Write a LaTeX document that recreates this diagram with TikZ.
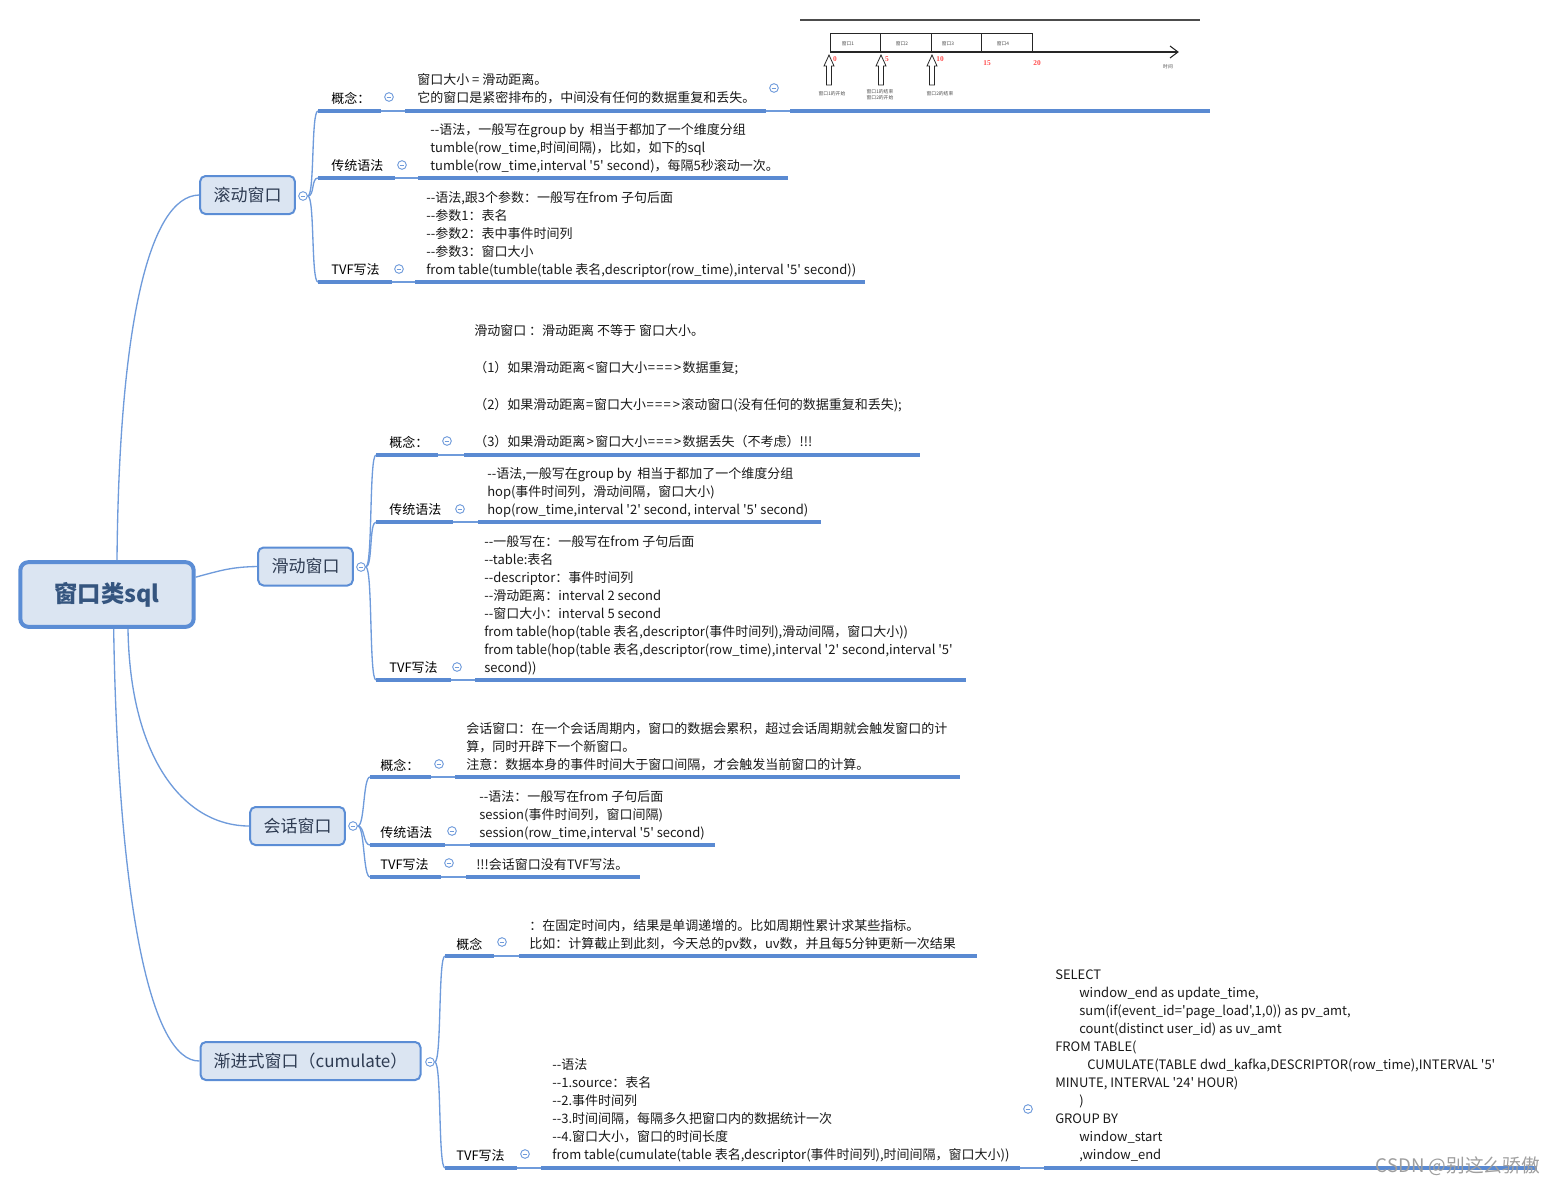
\documentclass[tikz,border=0pt]{standalone}
\usepackage{fontspec}
\setmainfont{Noto Sans CJK SC}[Ligatures=TeXOff]
\newfontfamily\numfont{Liberation Serif}
\usepackage{tikz}
\usetikzlibrary{positioning, calc}

\definecolor{linkc}{HTML}{6F9BDB}
\definecolor{barc}{HTML}{5A8AD2}
\definecolor{boxfill}{HTML}{DBE5F2}
\definecolor{boxline}{HTML}{5B8DD5}
\definecolor{topictext}{HTML}{2E3B52}
\definecolor{roottext}{HTML}{35557F}
\definecolor{redno}{HTML}{FF4B4B}

\newcommand{\lt}{\kern0.1em<\kern0.1em}
\newcommand{\eqs}{\kern0.05em=\kern0.05em}
\newcommand{\gt}{\kern0.1em>\kern0.1em}

\tikzset{
  link/.style={linkc, line width=1pt},
  bar/.style={barc, line width=3pt},
  fold/.style={circle, draw=linkc, fill=white, line width=0.7pt, minimum size=6.5pt, inner sep=0pt,
    path picture={\draw[linkc, line width=0.6pt] ([xshift=-1.8pt]path picture bounding box.center) -- ([xshift=1.8pt]path picture bounding box.center);}},
  rootbox/.style={draw=boxline, fill=boxfill, line width=3pt, rounded corners=6pt, text=roottext,
    font=\fontsize{17.5}{20}\selectfont\bfseries},
  topicbox/.style={draw=boxline, fill=boxfill, line width=1.5pt, rounded corners=4pt, text=topictext,
    font=\fontsize{12.75}{15}\selectfont, minimum height=28.5pt},
  lbl/.style={anchor=west, inner sep=0pt, font=\fontsize{9.75}{13.5}\selectfont},
  txt/.style={anchor=west, inner sep=0pt, align=left, text=black!90, font=\fontsize{9.75}{13.5}\selectfont},
  tiny/.style={inner sep=0pt, align=center, text=black!70, font=\fontsize{3.6}{4.6}\selectfont},
  rednum/.style={inner sep=0pt, text=redno, font=\numfont\bfseries\fontsize{5.5}{6}\selectfont},
  hollow/.style={draw=black!85, line width=0.6pt, fill=white}
}

\begin{document}
\begin{tikzpicture}[x=0.75pt, y=-0.75pt]
\useasboundingbox (0,0) rectangle (1555,1185);

% root and the four topics
\node[rootbox, minimum width=130pt, minimum height=48.5pt] (root) at (107,594.5) {窗口类sql};
\node[topicbox, minimum width=71pt] (gd) at (247.5,195) {滚动窗口};
\node[topicbox, minimum width=71pt] (hd) at (305.5,566.5) {滑动窗口};
\node[topicbox, minimum width=71pt] (hh) at (297.5,826) {会话窗口};
\node[topicbox, minimum width=165pt] (jj) at (310.5,1061) {渐进式窗口（cumulate）};

\draw[link] ([xshift=7.5pt]root.north) .. controls (119,330) and (148,196) .. (gd.west);
\draw[link] ([yshift=13pt]root.east) .. controls (222,570) and (232,567) .. (hd.west);
\draw[link] ([xshift=15.75pt]root.south) .. controls (130,760) and (185,826) .. (hh.west);
\draw[link] ([xshift=5pt]root.south) .. controls (118,900) and (150,1062) .. (jj.west);

\node[fold] (gdf) at (303,196) {};
\node[fold] (hdf) at (361,567) {};
\node[fold] (hhf) at (353,826) {};
\node[fold] (jjf) at (430,1062) {};

% ---- 滚动窗口
\path (318,111) coordinate (gdg1) (381,111) coordinate (gdg2) (405,111) coordinate (gdg3) (766,111) coordinate (gdg4);
\path (318,178) coordinate (gdc1) (395,178) coordinate (gdc2) (418,178) coordinate (gdc3) (788,178) coordinate (gdc4);
\path (318,282) coordinate (gdt1) (392,282) coordinate (gdt2) (415,282) coordinate (gdt3) (865,282) coordinate (gdt4);
\path (790,111) coordinate (pic1) (1210,111) coordinate (pic2);

\node[lbl] (gdgl) at (331,98) {概念：};
\node[fold] (gdgf) at (389,97) {};
\node[txt] (gdgt) at (417,89) {窗口大小 = 滑动距离。\\它的窗口是紧密排布的，中间没有任何的数据重复和丢失。};
\node[fold] (gdgtf) at (774,88) {};

\node[lbl] (gdcl) at (331,166) {传统语法};
\node[fold] (gdcf) at (402,165) {};
\node[txt] (gdct) at (430,148) {--语法，一般写在group by\ \ 相当于都加了一个维度分组\\tumble(row\_time,时间间隔)，比如，如下的sql\\tumble(row\_time,interval '5' second)，每隔5秒滚动一次。};

\node[lbl] (gdtl) at (331,270) {TVF写法};
\node[fold] (gdtf) at (399,269) {};
\node[txt] (gdtt) at (426,234) {--语法,跟3个参数：一般写在from 子句后面\\--参数1：表名\\--参数2：表中事件时间列\\--参数3：窗口大小\\from table(tumble(table 表名,descriptor(row\_time),interval '5' second))};

\draw[link] (gdf.east) .. controls +(7,0) and +(-7,0) .. (gdg1);
\draw[link] (gdf.east) .. controls +(7,0) and +(-7,0) .. (gdc1);
\draw[link] (gdf.east) .. controls +(7,0) and +(-7,0) .. (gdt1);
\draw[bar] (gdg1) -- (gdg2) (gdg3) -- (gdg4) (pic1) -- (pic2);
\draw[link] (gdg2) -- (gdg3) (gdg4) -- (pic1);
\draw[bar] (gdc1) -- (gdc2) (gdc3) -- (gdc4);
\draw[link] (gdc2) -- (gdc3);
\draw[bar] (gdt1) -- (gdt2) (gdt3) -- (gdt4);
\draw[link] (gdt2) -- (gdt3);

% timeline picture
\draw[black!70, line width=0.8pt] (800,20) -- (1200,20);
\foreach \i in {0,...,3} {
  \draw[black!85, line width=0.6pt] (830+50.5*\i,33) rectangle ++(50.5,19);
}
\node[tiny] (w1) at (848,44) {窗口1};
\node[tiny] (w2) at (902,44) {窗口2};
\node[tiny] (w3) at (948,44) {窗口3};
\node[tiny] (w4) at (1003,44) {窗口4};
\draw[black!85, line width=0.8pt] (830,52) -- (1178,52);
\draw[black!85, line width=0.8pt] (1170,46) -- (1178,52) -- (1170,58);
\node[tiny] (tm) at (1168,67) {时间};
\node[rednum] (n0) at (835,59) {0};
\node[rednum] (n5) at (887,59) {5};
\node[rednum] (n10) at (940,59) {10};
\node[rednum] (n15) at (987,63) {15};
\node[rednum] (n20) at (1037,63) {20};
\foreach \ax in {829,881,932} {
  \draw[hollow] (\ax,55) -- (\ax+5,66) -- (\ax+2.5,66) -- (\ax+2.5,85) -- (\ax-2.5,85) -- (\ax-2.5,66) -- (\ax-5,66) -- cycle;
}
\node[tiny] (s1) at (832,94) {窗口1的开始};
\node[tiny] (s2) at (880,95) {窗口1的结束\\窗口2的开始};
\node[tiny] (s3) at (940,94) {窗口2的结束};

% ---- 滑动窗口
\path (376,455) coordinate (hdg1) (438,455) coordinate (hdg2) (464,455) coordinate (hdg3) (920,455) coordinate (hdg4);
\path (376,522) coordinate (hdc1) (453,522) coordinate (hdc2) (478,522) coordinate (hdc3) (821,522) coordinate (hdc4);
\path (376,680) coordinate (hdt1) (451,680) coordinate (hdt2) (475,680) coordinate (hdt3) (966,680) coordinate (hdt4);

\node[lbl] (hdgl) at (389,442) {概念：};
\node[fold] (hdgf) at (447,441) {};
\node[txt] (hdgt) at (474,386) {滑动窗口 ：滑动距离 不等于 窗口大小。\\[14.25pt]（1）如果滑动距离\lt 窗口大小\eqs\eqs\eqs\gt 数据重复;\\[14.25pt]（2）如果滑动距离\eqs 窗口大小\eqs\eqs\eqs\gt 滚动窗口(没有任何的数据重复和丢失);\\[14.25pt]（3）如果滑动距离\gt 窗口大小\eqs\eqs\eqs\gt 数据丢失（不考虑）!!!};

\node[lbl] (hdcl) at (389,510) {传统语法};
\node[fold] (hdcf) at (460,509) {};
\node[txt] (hdct) at (487,492) {--语法,一般写在group by\ \ 相当于都加了一个维度分组\\hop(事件时间列，滑动间隔，窗口大小)\\hop(row\_time,interval '2' second, interval '5' second)};

\node[lbl] (hdtl) at (389,668) {TVF写法};
\node[fold] (hdtf) at (457,667) {};
\node[txt] (hdtt) at (484,605) {--一般写在：一般写在from 子句后面\\--table:表名\\--descriptor：事件时间列\\--滑动距离：interval 2 second\\--窗口大小：interval 5 second\\from table(hop(table 表名,descriptor(事件时间列),滑动间隔，窗口大小))\\from table(hop(table 表名,descriptor(row\_time),interval '2' second,interval '5'\\second))};

\draw[link] (hdf.east) .. controls +(7,0) and +(-7,0) .. (hdg1);
\draw[link] (hdf.east) .. controls +(7,0) and +(-7,0) .. (hdc1);
\draw[link] (hdf.east) .. controls +(7,0) and +(-7,0) .. (hdt1);
\draw[bar] (hdg1) -- (hdg2) (hdg3) -- (hdg4);
\draw[link] (hdg2) -- (hdg3);
\draw[bar] (hdc1) -- (hdc2) (hdc3) -- (hdc4);
\draw[link] (hdc2) -- (hdc3);
\draw[bar] (hdt1) -- (hdt2) (hdt3) -- (hdt4);
\draw[link] (hdt2) -- (hdt3);

% ---- 会话窗口
\path (370,777) coordinate (hhg1) (431,777) coordinate (hhg2) (455,777) coordinate (hhg3) (960,777) coordinate (hhg4);
\path (370,845) coordinate (hhc1) (445,845) coordinate (hhc2) (470,845) coordinate (hhc3) (715,845) coordinate (hhc4);
\path (370,877) coordinate (hht1) (441,877) coordinate (hht2) (466,877) coordinate (hht3) (640,877) coordinate (hht4);

\node[lbl] (hhgl) at (380,765) {概念：};
\node[fold] (hhgf) at (439,764) {};
\node[txt] (hhgt) at (466,747) {会话窗口：在一个会话周期内，窗口的数据会累积，超过会话周期就会触发窗口的计\\算，同时开辟下一个新窗口。\\注意：数据本身的事件时间大于窗口间隔，才会触发当前窗口的计算。};

\node[lbl] (hhcl) at (380,833) {传统语法};
\node[fold] (hhcf) at (452,831) {};
\node[txt] (hhct) at (479,815) {--语法：一般写在from 子句后面\\session(事件时间列，窗口间隔)\\session(row\_time,interval '5' second)};

\node[lbl] (hhtl) at (380,865) {TVF写法};
\node[fold] (hhtf) at (449,863) {};
\node[txt] (hhtt) at (476,865) {!!!会话窗口没有TVF写法。};

\draw[link] (hhf.east) .. controls +(7,0) and +(-7,0) .. (hhg1);
\draw[link] (hhf.east) .. controls +(7,0) and +(-7,0) .. (hhc1);
\draw[link] (hhf.east) .. controls +(7,0) and +(-7,0) .. (hht1);
\draw[bar] (hhg1) -- (hhg2) (hhg3) -- (hhg4);
\draw[link] (hhg2) -- (hhg3);
\draw[bar] (hhc1) -- (hhc2) (hhc3) -- (hhc4);
\draw[link] (hhc2) -- (hhc3);
\draw[bar] (hht1) -- (hht2) (hht3) -- (hht4);
\draw[link] (hht2) -- (hht3);

% ---- 渐进式窗口
\path (445,956) coordinate (jjg1) (494,956) coordinate (jjg2) (519,956) coordinate (jjg3) (977,956) coordinate (jjg4);
\path (445,1168) coordinate (jjt1) (517,1168) coordinate (jjt2) (541,1168) coordinate (jjt3) (1020,1168) coordinate (jjt4);
\path (1044,1168) coordinate (sql1) (1537,1168) coordinate (sql2);

\node[lbl] (jjgl) at (456,944) {概念};
\node[fold] (jjgf) at (502,942) {};
\node[txt] (jjgt) at (529,935) {：在固定时间内，结果是单调递增的。比如周期性累计求某些指标。\\比如：计算截止到此刻，今天总的pv数，uv数，并且每5分钟更新一次结果};

\node[lbl] (jjtl) at (456,1156) {TVF写法};
\node[fold] (jjtf) at (525,1154) {};
\node[txt] (jjtt) at (552,1111) {--语法\\--1.source：表名\\--2.事件时间列\\--3.时间间隔，每隔多久把窗口内的数据统计一次\\--4.窗口大小，窗口的时间长度\\from table(cumulate(table 表名,descriptor(事件时间列),时间间隔，窗口大小))};
\node[fold] (jjttf) at (1028,1109) {};
\node[txt] (sql) at (1055,1066) {SELECT\\\hspace*{18pt}window\_end as update\_time,\\\hspace*{18pt}sum(if(event\_id='page\_load',1,0)) as pv\_amt,\\\hspace*{18pt}count(distinct user\_id) as uv\_amt\\FROM TABLE(\\\hspace*{24pt}CUMULATE(TABLE dwd\_kafka,DESCRIPTOR(row\_time),INTERVAL '5'\\MINUTE, INTERVAL '24' HOUR)\\\hspace*{18pt})\\GROUP BY\\\hspace*{18pt}window\_start\\\hspace*{18pt},window\_end};

\draw[link] (jjf.east) .. controls +(7,0) and +(-7,0) .. (jjg1);
\draw[link] (jjf.east) .. controls +(7,0) and +(-7,0) .. (jjt1);
\draw[bar] (jjg1) -- (jjg2) (jjg3) -- (jjg4);
\draw[link] (jjg2) -- (jjg3);
\draw[bar] (jjt1) -- (jjt2) (jjt3) -- (jjt4) (sql1) -- (sql2);
\draw[link] (jjt2) -- (jjt3) (jjt4) -- (sql1);

\node[anchor=east, inner sep=0pt, text=black!38, font=\fontsize{14}{16}\selectfont] (mark) at (1540,1166) {CSDN @别这么骄傲};
\end{tikzpicture}
\end{document}
